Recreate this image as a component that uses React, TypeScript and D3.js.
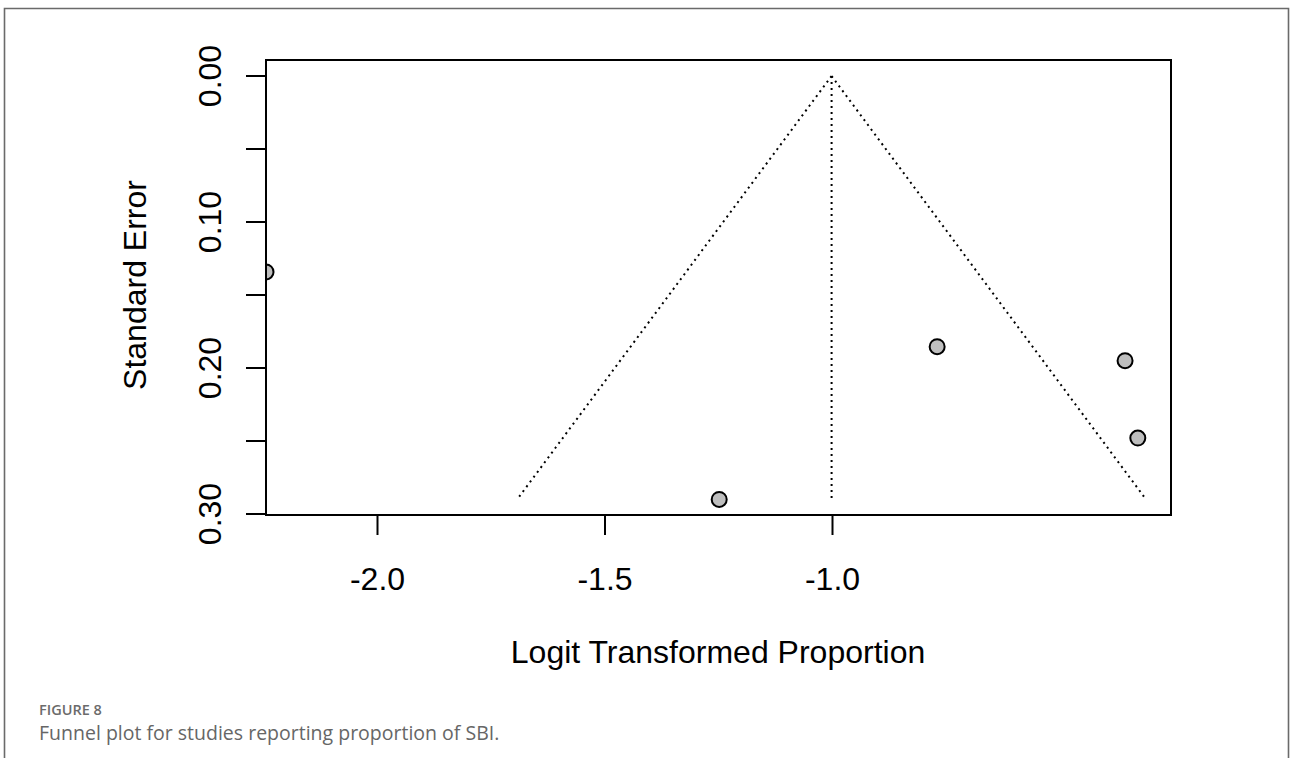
import React from "react";
import * as d3 from "d3";

// Study estimates (logit proportion) and their standard errors
const studyEstimates = [-2.245, -0.77, -1.249, -0.357, -0.329];
const studyStdErrors = [0.1342, 0.1854, 0.29, 0.195, 0.248];

// Pooled estimate and the funnel's pseudo-confidence bounds at its base
const pooledEstimate = -1.002;
const funnelBaseSE = 0.29;
const funnelBaseLeft = -1.693;
const funnelBaseRight = -0.311;

const xTicks = [-2.0, -1.5, -1.0];
const xTickLabels = ["-2.0", "-1.5", "-1.0"];
const yTicks = [0.0, 0.05, 0.1, 0.15, 0.2, 0.25, 0.3];
const yTickLabels = ["0.00", "", "0.10", "", "0.20", "", "0.30"];

const xTitle = "Logit Transformed Proportion";
const yTitle = "Standard Error";
const figureLabel = "FIGURE 8";
const figureCaption = "Funnel plot for studies reporting proportion of SBI.";

const W = 1290;
const H = 758;
const plot = { left: 266, top: 60, right: 1171, bottom: 515 };

export default function App() {
  const x = d3.scaleLinear().domain([-2.0, -1.0]).range([377.5, 832.5]);
  const y = d3.scaleLinear().domain([0, 0.3]).range([76, 514]);
  const font = "'Liberation Sans', Arial, sans-serif";
  const apexX = x(pooledEstimate);
  const apexY = y(0);
  const baseY = y(funnelBaseSE);
  const dash = "2,4";

  return (
    <div style={{ position: "absolute", left: 0, top: 0 }}>
      <svg width={W} height={H} style={{ display: "block", background: "#fff" }}>
        <defs>
          <clipPath id="plot-clip">
            <rect
              x={plot.left}
              y={plot.top}
              width={plot.right - plot.left}
              height={plot.bottom - plot.top}
            />
          </clipPath>
        </defs>

        {/* figure frame */}
        <path
          d={`M4.5,${H + 2} V8.5 H1288.5 V${H + 2}`}
          fill="none"
          stroke="#6a6a6a"
          strokeWidth={1.6}
        />

        {/* funnel */}
        <g fill="none" stroke="#000" strokeWidth={2} strokeDasharray={dash}>
          <line x1={apexX} y1={apexY} x2={x(funnelBaseLeft)} y2={baseY} />
          <line x1={apexX} y1={apexY} x2={x(funnelBaseRight)} y2={baseY} />
          <line x1={apexX} y1={apexY} x2={apexX} y2={baseY} />
        </g>

        {/* studies */}
        <g clipPath="url(#plot-clip)">
          {studyEstimates.map((est, i) => (
            <circle
              key={i}
              cx={x(est)}
              cy={y(studyStdErrors[i])}
              r={7.5}
              fill="#bebebe"
              stroke="#000"
              strokeWidth={2}
            />
          ))}
        </g>

        {/* plot box */}
        <rect
          x={plot.left}
          y={plot.top}
          width={plot.right - plot.left}
          height={plot.bottom - plot.top}
          fill="none"
          stroke="#000"
          strokeWidth={2}
        />

        {/* x axis */}
        <g>
          {xTicks.map((t, i) => (
            <g key={i}>
              <line x1={x(t)} x2={x(t)} y1={plot.bottom} y2={plot.bottom + 20} stroke="#000" strokeWidth={2} />
              <text
                x={x(t)}
                y={590}
                textAnchor="middle"
                fontFamily={font}
                fontSize={32}
                fill="#000"
              >
                {xTickLabels[i]}
              </text>
            </g>
          ))}
        </g>

        {/* y axis */}
        <g>
          {yTicks.map((t, i) => (
            <g key={i}>
              <line x1={plot.left - 20} x2={plot.left} y1={y(t)} y2={y(t)} stroke="#000" strokeWidth={2} />
              {yTickLabels[i] && (
                <text
                  transform={`translate(221,${y(t)}) rotate(-90)`}
                  textAnchor="middle"
                  fontFamily={font}
                  fontSize={32}
                  fill="#000"
                >
                  {yTickLabels[i]}
                </text>
              )}
            </g>
          ))}
        </g>

        {/* axis titles */}
        <text x={718} y={663} textAnchor="middle" fontFamily={font} fontSize={32} fill="#000">
          {xTitle}
        </text>
        <text
          transform={`translate(146,285) rotate(-90)`}
          textAnchor="middle"
          fontFamily={font}
          fontSize={32}
          fill="#000"
        >
          {yTitle}
        </text>

        {/* caption */}
        <text x={39} y={715} fontFamily="'Open Sans', sans-serif" fontSize={14.5} fontWeight={600} fill="#6b6b6b">
          {figureLabel}
        </text>
        <text x={39} y={740} fontFamily="'Open Sans', sans-serif" fontSize={19.5} fill="#666">
          {figureCaption}
        </text>
      </svg>
    </div>
  );
}
